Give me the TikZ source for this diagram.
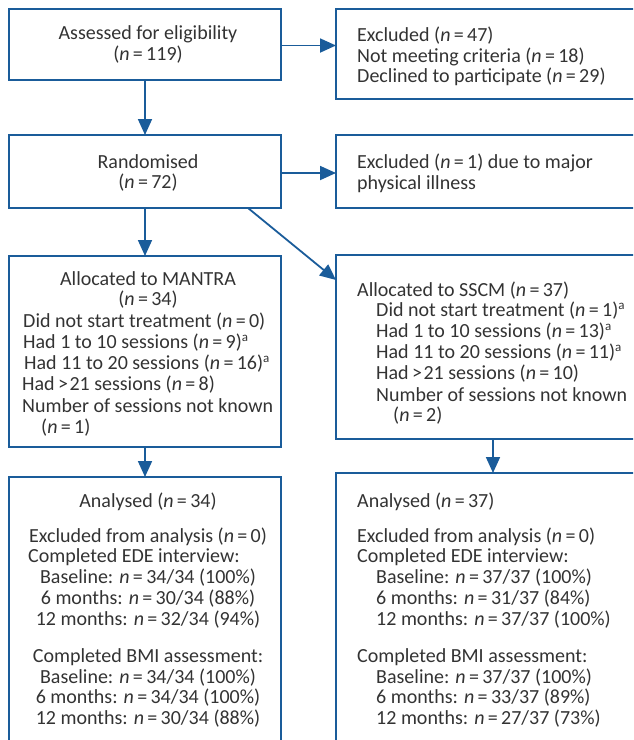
\documentclass[tikz,border=0pt]{standalone}
\usepackage{fontspec}
\setmainfont{Carlito}
\usetikzlibrary{arrows.meta,calc}
\definecolor{lineblue}{HTML}{1A5C9A}
\definecolor{txtgrey}{HTML}{333333}
\newcommand{\nn}{\textit{n}\,=\,}
\newcommand{\gtsym}{\,>\kern1.5pt}
\newcommand{\supa}{\raisebox{7.5pt}{\fontsize{13}{13}\selectfont a}}
\begin{document}
\begin{tikzpicture}[x=1pt,y=-1pt,
  font=\fontsize{20}{21}\selectfont,
  box/.style={draw=lineblue, line width=1.8pt, inner sep=0pt, outer sep=0pt, rectangle},
  arr/.style={draw=lineblue, line width=1.8pt, -{Triangle[length=16pt,width=14pt]}},
  tl/.style={anchor=west, inner sep=0pt, text=txtgrey},
  tc/.style={anchor=center, inner sep=0pt, text=txtgrey}]
\useasboundingbox (0,0) rectangle (633,740);
\clip (0,0) rectangle (633,740);
% boxes
\node[box, minimum width=272pt, minimum height=71pt] (A) at (145,44.5) {};
\node[box, minimum width=314pt, minimum height=90pt] (E1) at (493,54) {};
\node[box, minimum width=272pt, minimum height=73pt] (R) at (145,171.5) {};
\node[box, minimum width=314pt, minimum height=73pt] (E2) at (493,171.5) {};
\node[box, minimum width=272pt, minimum height=191pt] (M) at (145,351.5) {};
\node[box, minimum width=314pt, minimum height=184pt] (S) at (493,347) {};
\node[box, minimum width=272pt, minimum height=263.5pt] (N1) at (145,608.75) {};
\node[box, minimum width=314pt, minimum height=267.5pt] (N2) at (493,606.75) {};
% connectors
\draw[arr] (A.east |- 0,45.5) coordinate (aE) -- (aE -| E1.west);
\draw[arr] (A.south) -- (R.north);
\draw[arr] (R.east |- 0,173) coordinate (rE) -- (rE -| E2.west);
\draw[arr] ($(R.south east)+(-33,0)$) -- ($(S.north west)+(0,25)$);
\draw[arr] (R.south) -- (M.north);
\draw[arr] (M.south) -- (N1.north);
\draw[arr] (S.south) -- (N2.north);
% texts
\node[tc] (a1) at (148,34) {Assessed for eligibility};
\node[tc] (a2) at (148,55) {(\nn119)};
\node[tl] (e1) at (357,36) {Excluded (\nn47)};
\node[tl] (e2) at (357,57) {Not meeting criteria (\nn18)};
\node[tl] (e3) at (357,77) {Declined to participate (\nn29)};
\node[tc] (r1) at (148,162) {Randomised};
\node[tc] (r2) at (148,183) {(\nn72)};
\node[tl] (x1) at (357,163) {Excluded (\nn1) due to major};
\node[tl] (x2) at (357,184) {physical illness};
\node[tc] (m1) at (148,279) {Allocated to MANTRA};
\node[tc] (m2) at (148,300) {(\nn34)};
\node[tl] (m3) at (23,322) {Did not start treatment (\nn0)};
\node[tl] (m4) at (23,343) {Had 1 to 10 sessions (\nn9)\supa};
\node[tl] (m5) at (24,364) {Had 11 to 20 sessions (\nn16)\supa};
\node[tl] (m6) at (22,385) {Had\gtsym21 sessions (\nn8)};
\node[tl] (m7) at (22,406) {Number of sessions not known};
\node[tl] (m8) at (41,428) {(\nn1)};
\node[tl] (s1) at (357,291) {Allocated to SSCM (\nn37)};
\node[tl] (s2) at (376,311) {Did not start treatment (\nn1)\supa};
\node[tl] (s3) at (376,332) {Had 1 to 10 sessions (\nn13)\supa};
\node[tl] (s4) at (376,353) {Had 11 to 20 sessions (\nn11)\supa};
\node[tl] (s5) at (376,374) {Had\gtsym21 sessions (\nn10)};
\node[tl] (s6) at (376,395) {Number of sessions not known};
\node[tl] (s7) at (393,416) {(\nn2)};
\node[tc] (p1) at (148,502) {Analysed (\nn34)};
\node[tc] (p2) at (148,537) {Excluded from analysis (\nn0)};
\node[tl] (p3) at (28,557) {Completed EDE interview:};
\node[tc] (p4) at (148,578) {Baseline: \nn34/34 (100\%)};
\node[tc] (p5) at (148,599) {6 months: \nn30/34 (88\%)};
\node[tc] (p6) at (148,620) {12 months: \nn32/34 (94\%)};
\node[tc] (p7) at (148,657) {Completed BMI assessment:};
\node[tc] (p8) at (148,678) {Baseline: \nn34/34 (100\%)};
\node[tc] (p9) at (148,698) {6 months: \nn34/34 (100\%)};
\node[tc] (p10) at (148,719) {12 months: \nn30/34 (88\%)};
\node[tl] (q1) at (357,502) {Analysed (\nn37)};
\node[tl] (q2) at (357,537) {Excluded from analysis (\nn0)};
\node[tl] (q3) at (357,557) {Completed EDE interview:};
\node[tl] (q4) at (376,578) {Baseline: \nn37/37 (100\%)};
\node[tl] (q5) at (376,599) {6 months: \nn31/37 (84\%)};
\node[tl] (q6) at (376,620) {12 months: \nn37/37 (100\%)};
\node[tl] (q7) at (357,657) {Completed BMI assessment:};
\node[tl] (q8) at (376,678) {Baseline: \nn37/37 (100\%)};
\node[tl] (q9) at (376,698) {6 months: \nn33/37 (89\%)};
\node[tl] (q10) at (376,719) {12 months: \nn27/37 (73\%)};
\end{tikzpicture}
\end{document}
